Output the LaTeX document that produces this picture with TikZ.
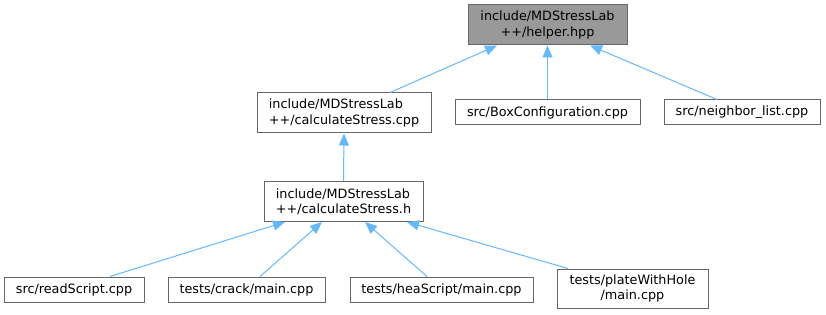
\documentclass[tikz,border=0pt]{standalone}
\usepackage{fontspec}
\setmainfont{DejaVu Sans}
\usepackage{tikz}
\usetikzlibrary{arrows.meta}
\definecolor{frame}{HTML}{666666}
\definecolor{rootfill}{HTML}{999999}
\definecolor{link}{HTML}{63B8FF}

\begin{document}
\begin{tikzpicture}[x=1pt,y=-1pt,
    file/.style={draw=frame,line width=1pt,fill=white,inner sep=0pt,align=center,
      font=\fontsize{12.8}{15.5}\selectfont,minimum height=25pt},
    twoline/.style={file,minimum height=40pt},
    dep/.style={link,line width=1pt,-{Triangle[length=12pt,width=10pt]}}]
  \useasboundingbox (0,0) rectangle (826,315);
  % header and the files that include it
  \node[twoline,fill=rootfill,minimum width=159pt] (helper) at (547.5,25) {include/MDStressLab\\++/helper.hpp};
  \node[twoline,align=left,minimum width=174pt] (calcCpp) at (344,113) {include/MDStressLab\\++/calculateStress.cpp};
  \node[file,minimum width=185pt] (boxConf) at (547.5,112.5) {src/BoxConfiguration.cpp};
  \node[file,minimum width=156pt] (nbrList) at (742,112.5) {src/neighbor\_list.cpp};
  \node[twoline,align=left,minimum width=159pt] (calcH) at (343.5,201.5) {include/MDStressLab\\++/calculateStress.h};
  \node[file,minimum width=140pt] (readScript) at (74,289.5) {src/readScript.cpp};
  \node[file,minimum width=157pt] (crack) at (246.5,289.5) {tests/crack/main.cpp};
  \node[file,minimum width=183pt] (heaScript) at (441.5,289.5) {tests/heaScript/main.cpp};
  \node[twoline,minimum width=151pt,minimum height=39pt] (plate) at (632.5,288.5) {tests/plateWithHole\\/main.cpp};
  % include edges
  \draw[dep] ([xshift=46]calcCpp.north) -- ([xshift=-50.5]helper.south);
  \draw[dep] (boxConf.north) -- (helper.south);
  \draw[dep] ([xshift=-25]nbrList.north) -- ([xshift=42.5]helper.south);
  \draw[dep] (calcH.north) -- (calcCpp.south);
  \draw[dep] ([xshift=36]readScript.north) -- ([xshift=-58.5]calcH.south);
  \draw[dep] ([xshift=13.5]crack.north) -- ([xshift=-21.5]calcH.south);
  \draw[dep] ([xshift=-14.5]heaScript.north) -- ([xshift=21.5]calcH.south);
  \draw[dep] ([xshift=-64.5]plate.north) -- ([xshift=63.5]calcH.south);
\end{tikzpicture}
\end{document}
